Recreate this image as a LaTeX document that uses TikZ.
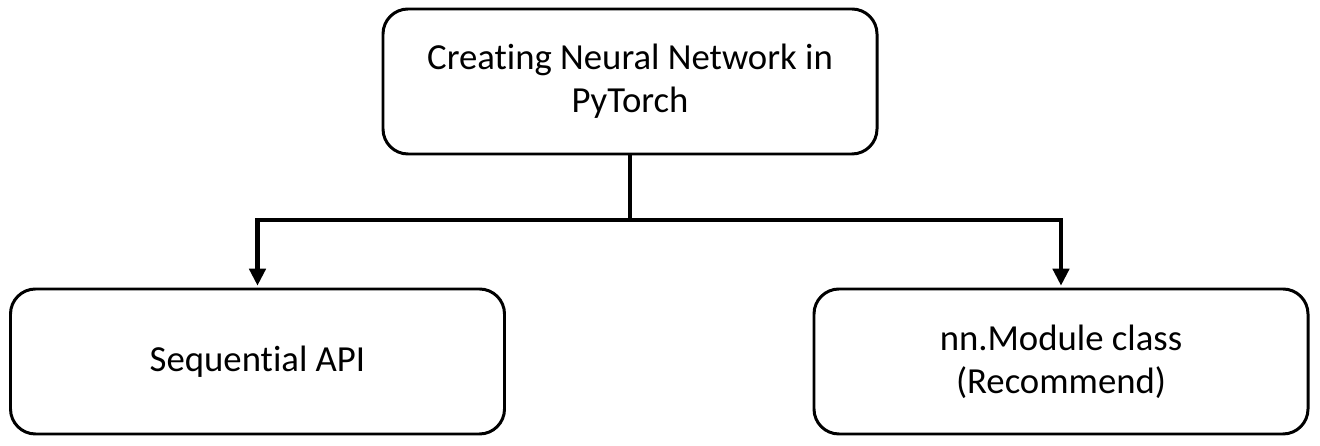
\documentclass[tikz,border=0pt]{standalone}
\usepackage{fontspec}
\setmainfont{Carlito}[Ligatures=CommonOff]
\usetikzlibrary{arrows.meta}

\tikzset{
	box/.style={draw, line width=1.7pt, rounded corners=0.5cm, minimum width=9.88cm, minimum height=2.9cm, align=center, font=\fontsize{20.9}{24.6}\selectfont},
	link/.style={line width=2.8pt, -{Triangle[width=0.32cm, length=0.34cm]}}
}

\begin{document}
\begin{tikzpicture}
	%\draw[help lines] (0,0) grid (26,9);
	\useasboundingbox (0, 0) rectangle (26.4, 8.92);
	
	\node [box] (top) at (12.6, 7.29) {Creating Neural Network in\\PyTorch};	% oben
	\node [box] (seq) at (5.15, 1.69) {Sequential API};				% links
	\node [box] (mod) at (21.22, 1.69) {nn.Module class\\(Recommend)};	% rechts
	
	\coordinate (split) at (12.6, 4.52);								% Verzweigung
	\draw [line width=2.8pt] (top.south) -- (split);
	\draw [link] (split) -| ([yshift=1pt]seq.north);
	\draw [link] (split) -| ([yshift=1pt]mod.north);

\end{tikzpicture}
\end{document}
